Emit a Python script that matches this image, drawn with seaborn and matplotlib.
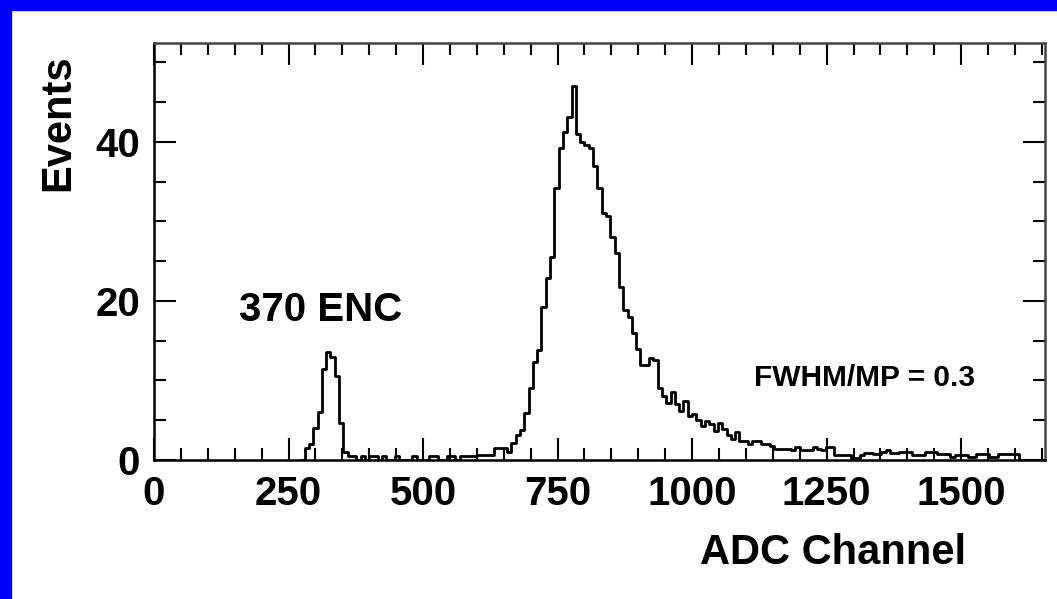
import numpy as np
import pandas as pd
import matplotlib
matplotlib.use("Agg")
import matplotlib.pyplot as plt
import seaborn as sns
from matplotlib.patches import Rectangle
from matplotlib.ticker import MultipleLocator

# ---- data ----
first_bin = 272          # ADC channel of first bin's left edge
bin_width = 8            # ADC channels per bin
counts = [
    0, 1.5, 2, 4, 6, 11.5, 13.6, 13,
    10.5, 4.6, 1, 0.5, 0.5, 0, 0.5, 0,
    0.5, 0.5, 0, 0.5, 0, 0, 0.5, 0,
    0, 0, 0.5, 0, 0, 0, 0.5, 0.5,
    0, 0, 0.5, 0.5, 0, 0.5, 0.5, 0.5,
    0.5, 0.6, 0.6, 0.6, 0.6, 1.5, 1.5, 1.5,
    1.0, 2.1, 3.1, 3.8, 5.9, 9, 12.3, 13.8,
    19.2, 22.9, 25.5, 34.2, 39.2, 41.2, 43.1, 47,
    41, 40, 39.6, 39.2, 37, 34.2, 31, 30.7,
    28, 26, 21.7, 18.9, 18, 16, 14, 12,
    12, 12.8, 12.6, 9.1, 8, 7.2, 8.5, 7,
    6.1, 7.4, 5.5, 5.8, 5, 4.3, 4.9, 4.5,
    3.6, 4.7, 3.9, 3.2, 2.6, 3.5, 2.4, 2.4,
    2.0, 2.4, 2.4, 2.0, 2.0, 1.8, 1.4, 1.4,
    1.4, 1.4, 1.2, 1.6, 1.2, 1.2, 1.2, 1.6,
    1.4, 1.2, 1.6, 1.6, 0.6, 0.6, 0.6, 0.6,
    0.3, 0.3, 0.6, 0.9, 0.9, 0.7, 0.7, 1.0,
    1.2, 0.9, 0.9, 1.0, 1.0, 1.0, 0.6, 0.6,
    0.6, 1.0, 1.0, 1.0, 0.8, 0.8, 0.8, 0.4,
    0.6, 0.6, 0.6, 0.4, 0.4, 0.8, 0.8, 0.8,
    0.4, 0.4, 0.8, 0.8, 0.8, 0.8, 0.8, 0,
]
x_ticks = [0, 250, 500, 750, 1000, 1250, 1500]
y_ticks = [0, 20, 40]
x_label = "ADC Channel"
y_label = "Events"
peak_label = "370 ENC"
ratio_label = "FWHM/MP = 0.3"

edges = first_bin + bin_width * np.arange(len(counts) + 1)
centers = edges[:-1] + bin_width / 2
df = pd.DataFrame({"adc": centers, "events": counts})

# ---- style ----
sns.set_style("ticks")
plt.rcParams["font.family"] = ["Liberation Sans", "DejaVu Sans"]
plt.rcParams["font.weight"] = "bold"
plt.rcParams["axes.labelweight"] = "bold"
plt.rcParams["text.color"] = "black"
plt.rcParams["axes.labelcolor"] = "black"
plt.rcParams["xtick.color"] = "black"
plt.rcParams["ytick.color"] = "black"

fig = plt.figure(figsize=(10.57, 5.99), dpi=100)
fig.patch.set_facecolor("white")
ax = fig.add_axes([0.1457, 0.232, 0.843, 0.696])

sns.histplot(data=df, x="adc", weights="events", bins=list(edges),
             element="step", fill=False, color="black", linewidth=2.0, ax=ax)

ax.set_xlim(0, 1656)
ax.set_ylim(0, 52.4)
ax.set_xticks(x_ticks)
ax.set_yticks(y_ticks)
ax.xaxis.set_minor_locator(MultipleLocator(50))
ax.yaxis.set_minor_locator(MultipleLocator(5))
ax.tick_params(which="both", direction="in", top=True, right=True,
               width=1.5, color="black", labelcolor="black")
ax.tick_params(which="major", length=16, labelsize=29)
ax.tick_params(which="minor", length=8.5)
ax.tick_params(axis="x", which="major", pad=11)
ax.tick_params(axis="y", which="major", pad=10)
for lbl in ax.get_xticklabels() + ax.get_yticklabels():
    lbl.set_fontweight("bold")

for sp in ax.spines.values():
    sp.set_linewidth(1.8)
    sp.set_color("black")
ax.spines["top"].set_color("#444444")
ax.spines["right"].set_color("#444444")

ax.set_xlabel(x_label, fontsize=30, fontweight="bold", color="black")
ax.set_ylabel(y_label, fontsize=30, fontweight="bold", color="black")
ax.xaxis.set_label_coords(0.762, -0.175)
ax.yaxis.set_label_coords(-0.085, 0.81)

ax.text(310, 18.9, peak_label, ha="center", va="center",
        fontsize=29, fontweight="bold", color="black")
ax.text(1320, 10.3, ratio_label, ha="center", va="center",
        fontsize=21.5, fontweight="bold", color="black")

# blue frame of the slide (left and top bands only)
fig.add_artist(Rectangle((0, 0), 11 / 1057, 1, transform=fig.transFigure,
                         color="#0000ff", zorder=10))
fig.add_artist(Rectangle((0, 1 - 10 / 599), 1, 10 / 599,
                         transform=fig.transFigure, color="#0000ff", zorder=10))

fig.savefig("out.png", dpi=100, facecolor="white")
